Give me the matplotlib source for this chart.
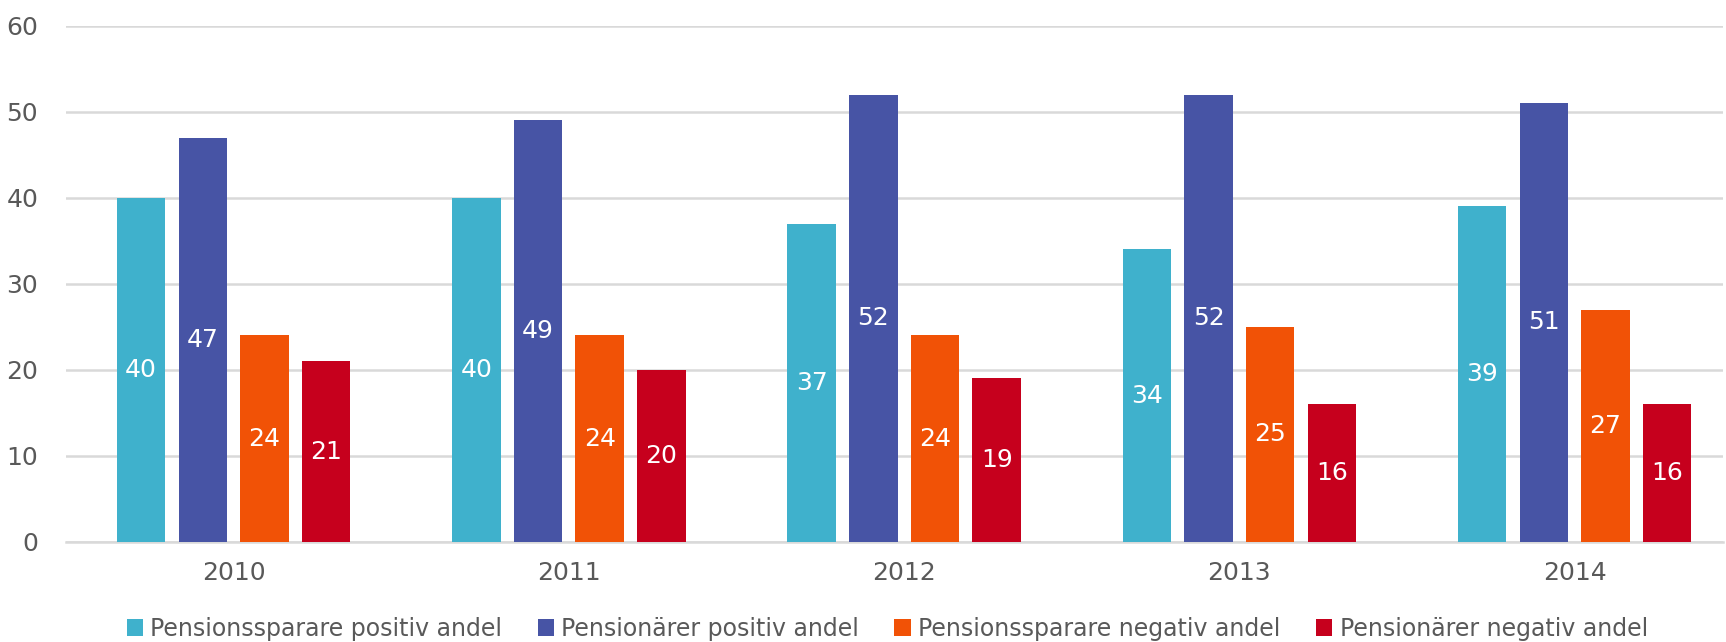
import matplotlib
matplotlib.use("Agg")
import matplotlib.pyplot as plt
import numpy as np

years = ["2010", "2011", "2012", "2013", "2014"]
series_names = ["Pensionssparare positiv andel", "Pensionärer positiv andel",
                "Pensionssparare negativ andel", "Pensionärer negativ andel"]
sparare_pos = [40, 40, 37, 34, 39]
pensionarer_pos = [47, 49, 52, 52, 51]
sparare_neg = [24, 24, 24, 25, 27]
pensionarer_neg = [21, 20, 19, 16, 16]
colors = ["#3FB1CC", "#4754A5", "#F15206", "#C6001D"]
yticks = [0, 10, 20, 30, 40, 50, 60]

plt.rcParams['font.family'] = ['DejaVu Sans']

fig = plt.figure(figsize=(17.26, 6.42), dpi=100)
ax = fig.add_axes([0.0382, 0.156, 0.96, 0.804])

x = np.arange(len(years))
width = 0.1445
step = 0.184
data = [sparare_pos, pensionarer_pos, sparare_neg, pensionarer_neg]
for i, (vals, c, name) in enumerate(zip(data, colors, series_names)):
    pos = x + (i - 1.5) * step
    bars = ax.bar(pos, vals, width=width, color=c, label=name, zorder=3)
    ax.bar_label(bars, labels=[str(v) for v in vals], label_type='center',
                 color='white', fontsize=18)

ax.set_ylim(0, 60)
ax.set_xlim(-0.5, 4.442)
ax.set_yticks(yticks)
ax.set_xticks(x)
ax.set_xticklabels(years)
ax.yaxis.grid(True, color='#d9d9d9', linewidth=1.8, zorder=0)
ax.set_axisbelow(True)
for s in ['top', 'right', 'left']:
    ax.spines[s].set_visible(False)
ax.spines['bottom'].set_color('#d9d9d9')
ax.spines['bottom'].set_linewidth(1.8)
ax.tick_params(axis='both', length=0, colors='#595959', labelsize=18)
ax.tick_params(axis='y', pad=20)
ax.tick_params(axis='x', pad=14)

leg = fig.legend(loc='lower center', ncol=4, frameon=False,
                 bbox_to_anchor=(0.514, -0.031),
                 handlelength=0.7, handleheight=0.7, handletextpad=0.3,
                 columnspacing=1.5, prop={'family': 'DejaVu Sans', 'size': 17})
for t in leg.get_texts():
    t.set_color('#595959')

fig.savefig("out.png", dpi=100)
